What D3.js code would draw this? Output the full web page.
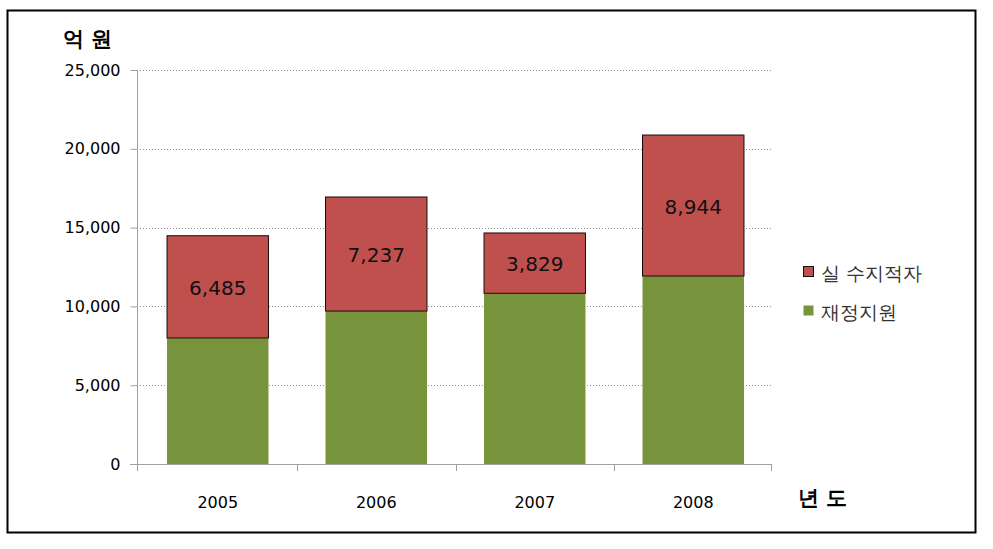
<!DOCTYPE html>
<html>
<head>
<meta charset="utf-8">
<script src="https://cdn.jsdelivr.net/npm/d3@7"></script>
<style>
  body { margin: 0; background: #fff; }
  text { font-family: "DejaVu Sans", sans-serif; }
</style>
</head>
<body>
<div id="chart"></div>
<script>
var years = ["2005", "2006", "2007", "2008"];
var support = [8000, 9705, 10830, 11930];   // 재정지원
var deficit = [6485, 7237, 3829, 8944];     // 실 수지적자
var yTicks = [0, 5000, 10000, 15000, 20000, 25000];
var legendNames = ["실 수지적자", "재정지원"];

var width = 993, height = 549;
var svg = d3.select("#chart").append("svg")
  .attr("width", width)
  .attr("height", height);

// frame
svg.append("rect")
  .attr("x", 7.5).attr("y", 10.5)
  .attr("width", 968).attr("height", 522)
  .attr("fill", "none").attr("stroke", "#000").attr("stroke-width", 2);

var x = d3.scaleBand().domain(years).range([138.5, 772.5]).paddingInner(0.36).paddingOuter(0.18);
var y = d3.scaleLinear().domain([0, 25000]).range([464, 70]);

// gridlines
svg.append("g").selectAll("line")
  .data(yTicks.slice(1))
  .join("line")
  .attr("x1", 137).attr("x2", 771)
  .attr("y1", function(d) { return Math.round(y(d)) + 0.5; })
  .attr("y2", function(d) { return Math.round(y(d)) + 0.5; })
  .attr("stroke", "#8c8c8c")
  .attr("stroke-dasharray", "1,2");

// y axis
var yAxis = d3.axisLeft(y).tickValues(yTicks).tickSize(7).tickPadding(10)
  .tickFormat(d3.format(","));
var gy = svg.append("g").attr("transform", "translate(137.5,0)").call(yAxis);
gy.select(".domain").attr("stroke", "#a0a0a0").attr("d", "M0,70V464");
gy.selectAll(".tick line").attr("stroke", "#a0a0a0");
gy.selectAll(".tick text").attr("font-size", 16).attr("fill", "#000")
  .attr("font-family", "DejaVu Sans, sans-serif");

// x axis baseline and category ticks
var bounds = [137, 771].concat(years.slice(1).map(function(d) {
  return x(d) - x.step() * x.paddingInner() / 2;
}));
svg.append("line")
  .attr("x1", 130).attr("x2", 771)
  .attr("y1", 464.5).attr("y2", 464.5)
  .attr("stroke", "#a0a0a0");
svg.append("g").selectAll("line")
  .data(bounds)
  .join("line")
  .attr("x1", function(d) { return Math.round(d) + 0.5; })
  .attr("x2", function(d) { return Math.round(d) + 0.5; })
  .attr("y1", 464).attr("y2", 471)
  .attr("stroke", "#a0a0a0");
svg.append("g").selectAll("text")
  .data(years)
  .join("text")
  .attr("x", function(d) { return x(d) + x.bandwidth() / 2; })
  .attr("y", 508)
  .attr("text-anchor", "middle")
  .attr("font-size", 16)
  .text(function(d) { return d; });

// bars
var bars = svg.append("g");
bars.selectAll("rect.sup")
  .data(years)
  .join("rect")
  .attr("class", "sup")
  .attr("x", function(d) { return x(d); })
  .attr("width", x.bandwidth())
  .attr("y", function(d, i) { return y(support[i]); })
  .attr("height", function(d, i) { return y(0) - y(support[i]); })
  .attr("fill", "#77933C");
bars.selectAll("rect.def")
  .data(years)
  .join("rect")
  .attr("class", "def")
  .attr("x", function(d) { return x(d); })
  .attr("width", x.bandwidth())
  .attr("y", function(d, i) { return y(support[i] + deficit[i]); })
  .attr("height", function(d, i) { return y(support[i]) - y(support[i] + deficit[i]); })
  .attr("fill", "#C0504D")
  .attr("stroke", "#1a0a0a")
  .attr("stroke-width", 1);
bars.selectAll("text")
  .data(years)
  .join("text")
  .attr("x", function(d) { return x(d) + x.bandwidth() / 2; })
  .attr("y", function(d, i) { return y(support[i] + deficit[i] / 2); })
  .attr("dy", "0.4em")
  .attr("text-anchor", "middle")
  .attr("font-size", 20)
  .attr("fill", "#111")
  .text(function(d, i) { return d3.format(",")(deficit[i]); });

// axis titles
svg.append("text")
  .attr("x", 63).attr("y", 46)
  .attr("font-size", 21).attr("font-weight", "bold")
  .attr("font-family", "Noto Sans CJK KR, sans-serif")
  .text("억 원");
svg.append("text")
  .attr("x", 798).attr("y", 505)
  .attr("font-size", 21).attr("font-weight", "bold")
  .attr("font-family", "Noto Sans CJK KR, sans-serif")
  .text("년 도");

// legend
var legendColors = ["#C0504D", "#77933C"];
var lg = svg.append("g").attr("transform", "translate(803,266)");
lg.selectAll("rect")
  .data(legendNames)
  .join("rect")
  .attr("x", 0.5)
  .attr("y", function(d, i) { return i * 39 + 0.5; })
  .attr("width", 10).attr("height", 10)
  .attr("fill", function(d, i) { return legendColors[i]; })
  .attr("stroke", function(d, i) { return i === 0 ? "#1a0a0a" : "none"; });
lg.selectAll("text")
  .data(legendNames)
  .join("text")
  .attr("x", 18)
  .attr("y", function(d, i) { return i * 39 + 12; })
  .attr("dy", "0.1em")
  .attr("font-size", 19)
  .attr("fill", "#333")
  .attr("font-family", "Noto Sans CJK KR, sans-serif")
  .text(function(d) { return d; });
</script>
</body>
</html>
